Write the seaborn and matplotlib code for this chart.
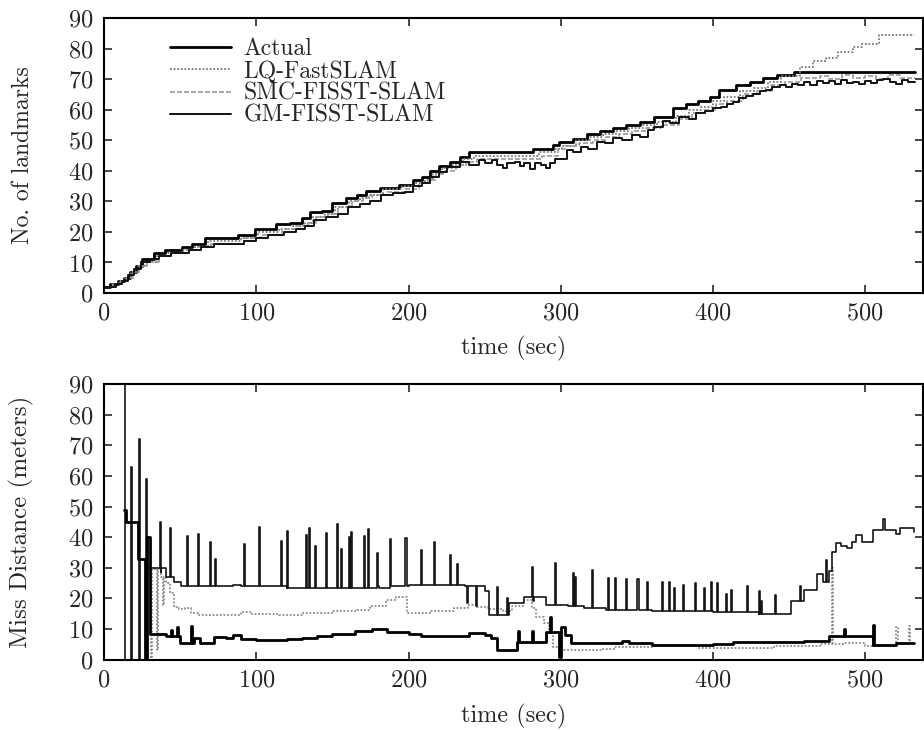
import numpy as np
import matplotlib
matplotlib.use("Agg")
import matplotlib.pyplot as plt
import seaborn as sns

# ---------------- landmark count (top panel) ----------------
actual_t = [0, 4, 9, 13, 17, 21, 25, 33, 40, 51, 58, 66, 88, 99, 113, 122, 130, 135, 143, 150,
            159, 166, 172, 181, 194, 203, 209, 214, 220, 227, 234, 240, 282, 295, 299, 308, 317, 326,
            334, 343, 352, 361, 374, 382, 390, 398, 404, 415, 424, 433, 442, 453, 533]
actual_n = [2, 3, 4, 5, 7, 9, 11, 13, 14, 15, 16, 18, 19, 21, 22.5, 23, 24.5, 26.5, 27, 29.5,
            31, 32, 33.5, 34.5, 35.5, 37, 38, 40, 41.5, 43, 44.5, 46, 47, 48.5, 49.5, 50.5, 52, 53,
            54, 55, 56, 57.5, 60.5, 62, 63, 64, 66.5, 68, 69, 70.5, 71.5, 72.5, 72.5]

lq_t = [0, 5, 10, 14, 18, 22, 27, 35, 42, 52, 60, 68, 90, 101, 115, 124, 132, 137, 145, 152,
        161, 168, 174, 183, 196, 205, 211, 216, 222, 229, 236, 243, 286, 296, 301, 310, 319, 328,
        336, 345, 354, 363, 376, 384, 392, 400, 407, 418, 427, 436, 445, 457, 466, 474, 482, 492,
        498, 509, 532]
lq_n = [2, 3, 4, 5, 7, 9, 10, 12, 13, 14, 15, 17, 18, 20, 21, 22, 23, 25, 26, 28,
        30, 31, 32, 34, 35, 36, 37, 39, 41, 42, 44, 45, 46, 47, 48, 50, 51, 52,
        53, 54, 55, 56, 58, 60, 61, 63, 64, 66, 67, 69, 71, 74, 76, 77, 79, 80.5,
        81.5, 84.5, 84.5]

smc_t = [0, 6, 11, 15, 19, 23, 28, 36, 44, 54, 62, 70, 92, 103, 117, 126, 134, 139, 147, 154,
         163, 170, 176, 186, 198, 207, 213, 218, 224, 231, 238, 245, 288, 298, 303, 312, 321, 330,
         338, 347, 356, 366, 378, 386, 394, 402, 409, 420, 429, 438, 447, 458, 470, 476, 485, 492,
         500, 507, 515, 523, 533]
smc_n = [2, 3, 4, 5, 7, 9, 10, 12, 13, 14, 15, 16, 18, 19, 21, 22, 23, 25, 26, 28,
         30, 31, 32, 33, 34, 36, 37, 39, 40, 42, 43, 44, 45, 47, 48, 49, 50, 51,
         52, 53, 54, 55, 57, 59, 60, 62, 63, 65, 66, 68, 69, 70.5, 71, 70, 71.5, 70.5,
         71, 70, 71.5, 70.5, 70.5]

gm_t = [0, 8, 12, 16, 20, 24, 30, 36, 44, 50, 56, 64, 72, 85, 92, 100, 108, 118, 126, 132,
        138, 146, 154, 160, 168, 175, 182, 190, 198, 203, 209, 214, 220, 225, 234, 240, 246, 250,
        255, 258, 262, 265, 270, 273, 276, 280, 283, 287, 290, 293, 296, 304, 308, 313, 318, 324,
        329, 334, 340, 347, 352, 357, 361, 367, 372, 378, 384, 389, 395, 400, 405, 409, 413, 417,
        422, 426, 431, 435, 439, 444, 448, 452, 456, 460, 464, 468, 472, 476, 480, 484, 488, 492,
        496, 500, 504, 508, 512, 516, 520, 524, 528, 533]
gm_n = [2, 3, 4, 6, 8, 10, 11, 12, 13, 13, 14, 15, 16, 16, 17, 18, 19, 20, 21, 22,
        24, 25, 26, 28, 29, 30, 32, 32.6, 33, 35, 36, 38, 39.5, 41.3, 43, 42, 43.5, 42.5,
        43.5, 42, 41, 42.5, 43, 41.5, 42.5, 40.5, 42.5, 42, 41, 42.5, 44, 46.8, 46, 47.9, 47, 49.5,
        49, 50.6, 50, 51.7, 51, 53.3, 54.4, 56.2, 55.5, 57.7, 57, 58.8, 59.5, 60.4, 61, 62, 62.5, 63.7,
        64.5, 65.3, 66, 66.5, 67.5, 68, 67.3, 68.5, 68, 69, 68.2, 69.5, 68.8, 69.3, 68.4, 69.6, 68.8, 69.2,
        68.5, 69.5, 68.8, 69.6, 70, 69, 68.4, 69.8, 69, 69]

# ---------------- miss distance (bottom panel) ----------------
md_lq_t = [13, 13.6, 18, 18.6, 22.8, 23.4, 27.3, 28, 37.5, 41, 46, 50.5, 85, 90, 120, 180, 200,
           237, 245, 250, 253, 266, 276, 282, 290, 305, 315, 330, 360, 400, 430, 451, 460, 468,
           472, 476, 478, 481, 484, 488, 491, 494, 498, 505, 520, 523, 532]
md_lq_v = [100, 0, 63, 0, 72, 0, 59, 30, 28.5, 27, 25.5, 24, 24.5, 24, 23.5, 24, 24.5,
           24, 23.5, 22.5, 14.5, 18.5, 20.5, 19, 18, 17.5, 17, 16.3, 15.8, 15.5, 15, 19, 22.7, 28,
           25.5, 29, 35, 38, 37, 36.4, 38.4, 40.7, 38.4, 42.3, 41, 43, 41.8]
md_lq_spike_t = [36.9, 43.4, 54.6, 61.8, 69.3, 72.6, 91.9, 101.5, 116.4, 120.2, 132.9, 134.4,
                 138.8, 145.8, 153, 155.5, 160.7, 162, 170.8, 173.5, 179.6, 188, 198, 208, 216.9,
                 227.2, 231.8, 238.5, 244.5, 257.9, 264.5, 281.4, 296.3, 308.3, 309.2, 320.4, 331,
                 335.6, 343, 350.4, 356.4, 366.4, 371.3, 374.6, 380.5, 388, 394, 398.5, 402.4,
                 408.6, 412, 422.4, 430.5, 431.6, 440.6, 457, 474.5, 512]
md_lq_spike_v = [45, 43, 40.5, 41, 38.5, 32.8, 37.7, 43.2, 38.8, 42, 40.7, 43,
                 37, 41.2, 44.2, 36, 40, 41.7, 40.4, 42.6, 34.7, 39.5, 39.6, 35.8, 38.5,
                 34.2, 31.2, 18.5, 17.5, 23.8, 20, 30.2, 31.4, 28.2, 27, 29.4, 26.5,
                 26.5, 26.4, 26.4, 25.5, 25.5, 25.5, 23.5, 24.3, 24.9, 23.3, 25.5, 24.9,
                 21.4, 22.6, 23.9, 22.3, 19, 21, 23.9, 32.5, 46]

md_smc_t = [27, 28.5, 37.5, 41, 43, 46, 49, 53, 57, 62, 90, 97, 115, 130, 150, 166, 175, 185,
            192, 198.7, 215, 230, 239, 245, 252, 262, 268, 275, 281, 284, 289, 292, 294.7, 298.8,
            327, 335, 360, 390, 440, 470, 486, 500, 520, 532]
md_smc_v = [0, 29.5, 27, 25, 21.7, 17.3, 16.5, 17, 15.1, 14.7, 15.6, 14.9, 14.7, 15.2, 15.8, 16.2,
            17.4, 19.5, 20.5, 15.3, 16, 17, 17.8, 17.3, 16.5, 16, 17.5, 19.5, 17, 14, 12, 9, 4.2,
            3.1, 3.6, 4.2, 4.5, 3.7, 4.3, 5, 5.5, 4.5, 5.5, 5.5]
md_smc_spike_t = [31, 34.5, 39, 478, 520.5, 529]
md_smc_spike_v = [0, 3, 18, 30, 10.6, 11]

md_gm_t = [13, 14.6, 22.5, 27, 28.5, 30.5, 41, 50, 59, 63, 72, 80, 85, 90, 100, 120, 130, 140,
           150, 165, 176, 186, 200, 208, 240, 250, 254, 258, 271, 290, 299, 300, 303, 307, 340,
           345, 360, 400, 413, 460, 476, 505, 520, 532]
md_gm_v = [49, 45, 33, 0.4, 40, 8.4, 7.8, 5.5, 7.2, 5.3, 7.5, 7.2, 8, 6.8, 6.3, 6.6, 7, 7.6,
           8.3, 9.3, 10, 9.1, 8.4, 7.8, 8.6, 8, 7, 3.1, 5.6, 9.1, 1, 10.7, 8, 5.3, 6,
           5.3, 4.8, 5.1, 5.9, 6.2, 7.7, 4.8, 5.5, 5.5]
md_gm_spike_t = [44, 48, 57, 272, 281, 293, 486, 505]
md_gm_spike_v = [9.8, 10.5, 11, 9.5, 9.5, 14, 10, 11.3]

legend_labels = ["Actual", "LQ-FastSLAM", "SMC-FISST-SLAM", "GM-FISST-SLAM"]
x_ticks = [0, 100, 200, 300, 400, 500]
y_ticks = [0, 10, 20, 30, 40, 50, 60, 70, 80, 90]


def with_spikes(t, v, st, sv, width=0.7):
    """Insert narrow excursions into a step series at the given times."""
    t = np.asarray(t, float)
    v = np.asarray(v, float)
    st = np.asarray(st, float)
    sv = np.asarray(sv, float)
    idx = np.clip(np.searchsorted(t, st, side="right") - 1, 0, None)
    back = v[idx]
    tt = np.concatenate([t, st, st + width])
    vv = np.concatenate([v, sv, back])
    order = np.argsort(tt, kind="stable")
    return tt[order], vv[order]


sns.set_style("ticks")
plt.rcParams.update({
    "font.family": "cmr10",
    "axes.formatter.use_mathtext": True,
    "mathtext.fontset": "cm",
    "axes.unicode_minus": False,
})

fig = plt.figure(figsize=(9.24, 7.3), dpi=100)
ax1 = fig.add_axes([0.1126, 0.5986, 0.8864, 0.3767])
ax2 = fig.add_axes([0.1126, 0.0964, 0.8864, 0.3775])

step = dict(estimator=None, sort=False, drawstyle="steps-post")

# top panel
sns.lineplot(x=actual_t, y=actual_n, ax=ax1, color="black", lw=2.0, label=legend_labels[0], **step)
sns.lineplot(x=lq_t, y=lq_n, ax=ax1, color="#7a7a7a", lw=1.3, linestyle=(0, (1, 1)),
             label=legend_labels[1], **step)
sns.lineplot(x=smc_t, y=smc_n, ax=ax1, color="#9a9a9a", lw=1.2, linestyle=(0, (3, 1.2)),
             label=legend_labels[2], **step)
sns.lineplot(x=gm_t, y=gm_n, ax=ax1, color="#111111", lw=1.4, label=legend_labels[3], **step)

# bottom panel
tq, vq = with_spikes(md_lq_t, md_lq_v, md_lq_spike_t, md_lq_spike_v)
ts, vs = with_spikes(md_smc_t, md_smc_v, md_smc_spike_t, md_smc_spike_v)
tg, vg = with_spikes(md_gm_t, md_gm_v, md_gm_spike_t, md_gm_spike_v)
sns.lineplot(x=ts, y=vs, ax=ax2, color="#8a8a8a", lw=1.3, linestyle=(0, (1, 1)), **step)
sns.lineplot(x=tq, y=vq, ax=ax2, color="#151515", lw=1.2, **step)
sns.lineplot(x=tg, y=vg, ax=ax2, color="black", lw=2.0, **step)

for ax, ylab, ysize in ((ax1, "No. of landmarks", 17), (ax2, "Miss Distance (meters)", 18)):
    ax.set_xlim(0, 538)
    ax.set_ylim(0, 90)
    ax.set_xticks(x_ticks)
    ax.set_yticks(y_ticks)
    ax.tick_params(direction="in", length=6, width=1.2, top=True, right=True,
                   labelsize=17.5, pad=7)
    ax.tick_params(axis="y", pad=8)
    for s in ax.spines.values():
        s.set_linewidth(1.5)
        s.set_color("black")
    ax.set_xlabel("time (sec)", fontsize=17.5)
    ax.set_ylabel(ylab, fontsize=ysize)
    ax.yaxis.set_label_coords(-0.0855, 0.5)

ax1.xaxis.set_label_coords(0.5, -0.155)
ax2.xaxis.set_label_coords(0.5, -0.16)

ax2.get_legend() and ax2.get_legend().remove()
ax1.legend(loc="upper left", bbox_to_anchor=(0.0806, 0.927), frameon=False, fontsize=17,
           handlelength=2.6, handletextpad=0.5, labelspacing=0.0, borderpad=0,
           borderaxespad=0)

fig.savefig("out.png", dpi=100)
